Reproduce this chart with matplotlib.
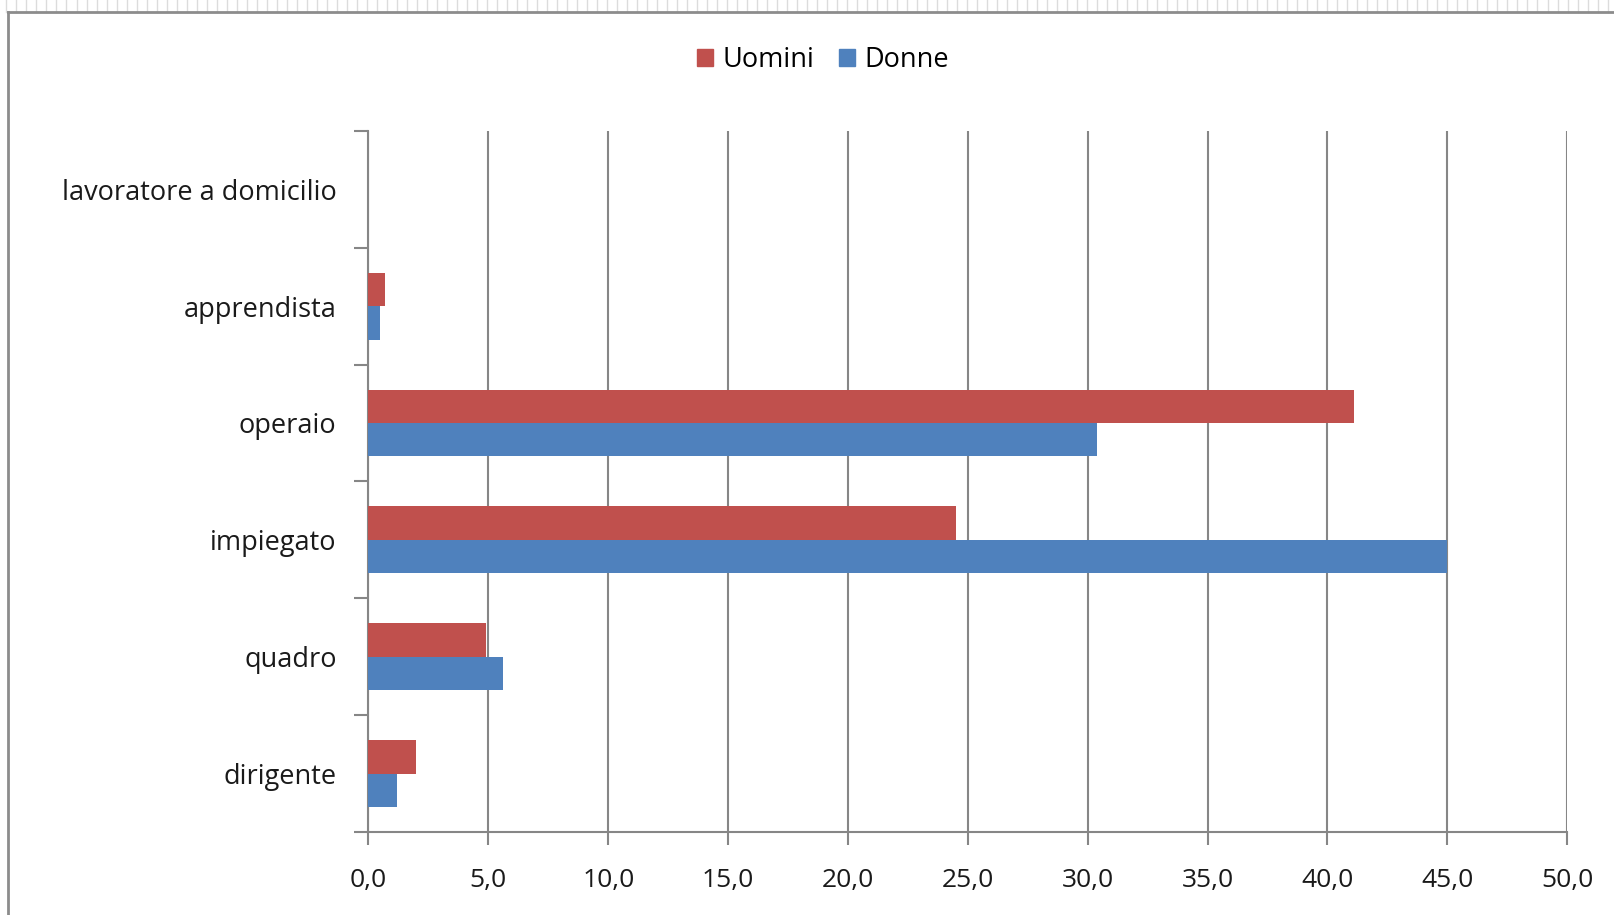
import numpy as np
import matplotlib.pyplot as plt
from matplotlib.patches import Patch
from matplotlib.ticker import FuncFormatter, FixedLocator

# ----------------------------------------------------------------------
# Data (percentages)
# ----------------------------------------------------------------------
categories = ["dirigente", "quadro", "impiegato", "operaio",
              "apprendista", "lavoratore a domicilio"]
uomini = [2.0, 4.9, 24.5, 41.1, 0.7, 0.0]
donne = [1.2, 5.6, 45.0, 30.4, 0.5, 0.0]
series_names = ["Uomini", "Donne"]
x_ticks = [0, 5, 10, 15, 20, 25, 30, 35, 40, 45, 50]

RED = "#C0504D"
BLUE = "#4F81BD"
GRID = "#868686"

plt.rcParams["font.family"] = ["Open Sans", "DejaVu Sans"]

fig = plt.figure(figsize=(16.14, 9.15), dpi=100)
ax = fig.add_axes([0.2283, 0.0907, 0.7427, 0.7663])

# Excel style: gap width 150% -> bar height = 1 / 3.5 of a category band
y = np.arange(len(categories))
h = 1 / 3.5
ax.barh(y + h / 2, uomini, height=h, color=RED, label=series_names[0], zorder=3)
ax.barh(y - h / 2, donne, height=h, color=BLUE, label=series_names[1], zorder=3)

ax.set_xlim(0, 50)
ax.set_ylim(-0.5, len(categories) - 0.5)

ax.set_xticks(x_ticks)
ax.xaxis.set_major_formatter(FuncFormatter(lambda v, p: f"{v:.1f}".replace(".", ",")))
ax.grid(axis="x", color=GRID, linewidth=1.5, zorder=0)

# category labels centred, tick marks at the band boundaries
ax.set_yticks(y)
ax.set_yticklabels(categories)
ax.yaxis.set_minor_locator(FixedLocator(np.arange(-0.5, len(categories), 1)))
ax.tick_params(axis="y", which="major", length=0, pad=23, labelsize=19.5,
               labelcolor="#1a1a1a")
ax.tick_params(axis="y", which="minor", length=10, width=1.5, color=GRID)
ax.tick_params(axis="x", length=9, width=1.5, color=GRID, pad=17,
               labelsize=19, labelcolor="#1a1a1a")

for side in ["top", "right"]:
    ax.spines[side].set_visible(False)
for side in ["left", "bottom"]:
    ax.spines[side].set_color(GRID)
    ax.spines[side].set_linewidth(1.5)

# legend at the top
handles = [Patch(color=RED, label=series_names[0]),
           Patch(color=BLUE, label=series_names[1])]
fig.legend(handles=handles, loc="center", bbox_to_anchor=(0.51, 0.934), ncol=2,
           frameon=False, fontsize=19.5, handlelength=0.6, handleheight=0.6,
           handletextpad=0.35, columnspacing=0.9)

# spreadsheet cell grid peeking above the chart
for gx in np.arange(0.004, 1.0, 0.0062):
    fig.add_artist(plt.Line2D([gx, gx], [0.987, 1.0], color="#dcdcdc",
                              linewidth=1, transform=fig.transFigure))

# chart frame (spreadsheet border)
fig.add_artist(plt.Line2D([0.005, 0.005], [0, 0.987], color="#8c8c8c",
                          linewidth=2, transform=fig.transFigure))
fig.add_artist(plt.Line2D([0.005, 1], [0.987, 0.987], color="#8c8c8c",
                          linewidth=2, transform=fig.transFigure))

fig.savefig("out.png", dpi=100)
